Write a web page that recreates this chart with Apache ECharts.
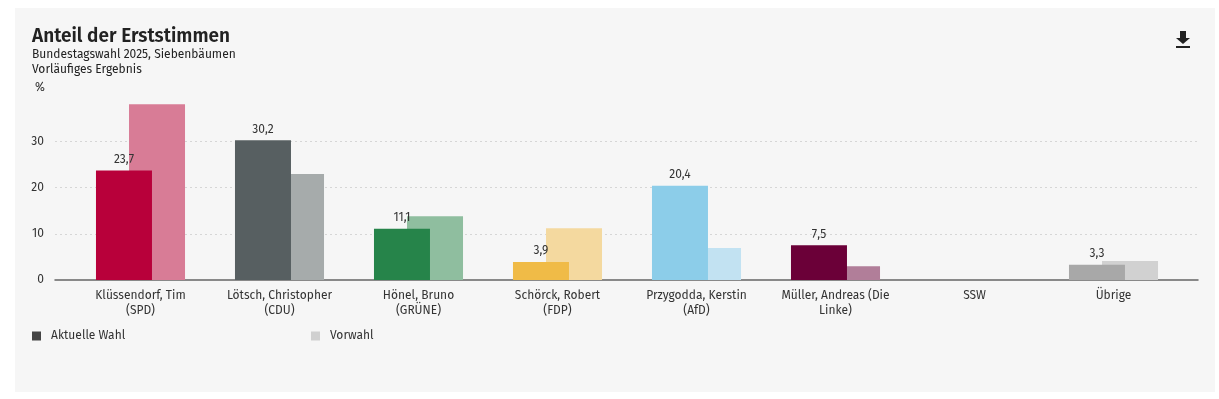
<!DOCTYPE html>
<html><head><meta charset="utf-8">
<script src="https://cdn.jsdelivr.net/npm/echarts@6/dist/echarts.min.js"></script>
<style>html,body{margin:0;padding:0;background:#fff;}#c{width:1219px;height:399px;}</style>
</head><body><div id="c"></div>
<script>
const categories = ['Klüssendorf, Tim\n(SPD)', 'Lötsch, Christopher\n(CDU)', 'Hönel, Bruno\n(GRÜNE)', 'Schörck, Robert\n(FDP)', 'Przygodda, Kerstin\n(AfD)', 'Müller, Andreas (Die\nLinke)', 'SSW', 'Übrige'];
const currentValues = [23.7, 30.2, 11.1, 3.9, 20.4, 7.5, null, 3.3];
const previousValues = [38.0, 22.9, 13.8, 11.2, 6.9, 3.0, null, 4.1];
const currentColors = ['#b8003a', '#575f61', '#26844a', '#f0bb47', '#8ccde9', '#6b0038', '#999999', '#a8a8a8'];
const previousColors = ['#d87c96', '#a6abab', '#8fbe9f', '#f4d99f', '#c2e2f2', '#b17e99', '#cccccc', '#d1d1d1'];
const yTicks = [0, 10, 20, 30, 40];

const FONT = "'Fira Sans','Open Sans','Noto Sans',sans-serif";
const fmt = v => v == null ? '' : v.toFixed(1).replace('.', ',');

const chart = echarts.init(document.getElementById('c'));
const yMax = yTicks[yTicks.length - 1];
chart.setOption({
  animation: false,
  textStyle: { fontFamily: FONT },
  graphic: [
    { type: 'rect', z: -10, silent: true, shape: { x: 15, y: 8, width: 1200, height: 384 }, style: { fill: '#f6f6f6' } },
    { type: 'text', left: 32, top: 27, style: { text: 'Anteil der Erststimmen', font: "600 19px " + FONT, fill: '#222' } },
    { type: 'text', left: 32, top: 49, style: { text: 'Bundestagswahl 2025, Siebenbäumen', font: "12px " + FONT, fill: '#222' } },
    { type: 'text', left: 32, top: 64, style: { text: 'Vorläufiges Ergebnis', font: "12px " + FONT, fill: '#222' } },
    { type: 'text', left: 35, top: 82, style: { text: '%', font: "12px " + FONT, fill: '#333' } },
    { type: 'group', left: 1176, top: 31, children: [
      { type: 'rect', shape: { x: 4, y: 0, width: 6, height: 7 }, style: { fill: '#222' } },
      { type: 'polygon', shape: { points: [[0, 7], [14, 7], [7, 13]] }, style: { fill: '#222' } },
      { type: 'rect', shape: { x: 0, y: 15, width: 14, height: 2 }, style: { fill: '#222' } }
    ]}
  ],
  legend: [
    { data: ['Aktuelle Wahl'], left: 32, top: 330, padding: 0, icon: 'rect', itemWidth: 9, itemHeight: 9, itemGap: 0,
      textStyle: { fontSize: 12, color: '#333', fontFamily: FONT, padding: [0, 0, 0, 5] } },
    { data: ['Vorwahl'], left: 311, top: 330, padding: 0, icon: 'rect', itemWidth: 9, itemHeight: 9, itemGap: 0,
      textStyle: { fontSize: 12, color: '#333', fontFamily: FONT, padding: [0, 0, 0, 5] } }
  ],
  grid: [
    { left: 55, right: 21, top: 95, bottom: 119 },
    { left: 71, right: 36, top: 95, bottom: 119 }
  ],
  xAxis: [
    { type: 'value', gridIndex: 0, min: 0, max: 1, axisLabel: { show: false }, axisTick: { show: false }, splitLine: { show: false },
      axisLine: { show: true, lineStyle: { color: '#666', width: 1.5 } } },
    { type: 'category', gridIndex: 1, data: categories, axisLine: { show: false }, axisTick: { show: false },
      axisLabel: { interval: 0, fontSize: 12, color: '#333', lineHeight: 15, margin: 8, fontFamily: FONT } }
  ],
  yAxis: [
    { type: 'value', gridIndex: 0, min: 0, max: yMax, interval: 10,
      axisLine: { show: false }, axisTick: { show: false },
      axisLabel: { fontSize: 12, color: '#333', margin: 11, showMaxLabel: false, fontFamily: FONT },
      splitLine: { show: true, showMaxLine: false, showMinLine: false, lineStyle: { color: '#d6d6d6', type: [2, 3] } } },
    { type: 'value', gridIndex: 1, min: 0, max: yMax, show: false, splitLine: { show: false } }
  ],
  series: [
    { name: 'Aktuelle Wahl', type: 'bar', xAxisIndex: 1, yAxisIndex: 1, z: 3, barWidth: 56, barGap: '-41%',
      itemStyle: { color: '#444' },
      data: currentValues.map((v, i) => ({ value: v, itemStyle: { color: currentColors[i] } })),
      label: { show: true, position: 'top', distance: 5, fontSize: 12, color: '#333', fontFamily: FONT, formatter: p => fmt(p.value) } },
    { name: 'Vorwahl', type: 'bar', xAxisIndex: 1, yAxisIndex: 1, z: 2, barWidth: 56, barGap: '-41%',
      itemStyle: { color: '#d0d0d0' },
      data: previousValues.map((v, i) => ({ value: v, itemStyle: { color: previousColors[i] } })) }
  ]
});
</script></body></html>
